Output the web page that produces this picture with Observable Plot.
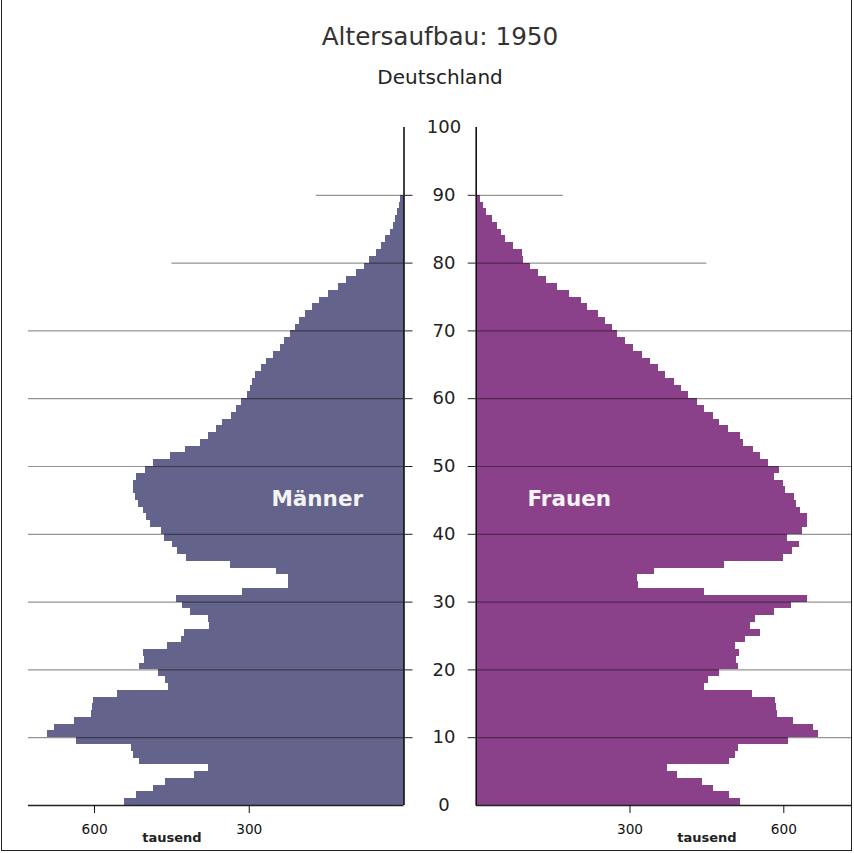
<!DOCTYPE html>
<html>
<head>
<meta charset="utf-8">
<script src="https://cdn.jsdelivr.net/npm/d3@7"></script>
<script src="https://cdn.jsdelivr.net/npm/@observablehq/plot@0.6"></script>
<style>
  html, body { margin: 0; padding: 0; background: #fff; }
  #wrap { position: relative; width: 854px; height: 853px; overflow: hidden; font-family: "DejaVu Sans", sans-serif; }
  #frame { position: absolute; left: 1px; top: -2px; width: 849px; height: 851px; border: 1px solid #222; box-sizing: content-box; pointer-events: none; }
  .ttl { position: absolute; left: 0; width: 880px; text-align: center; line-height: 1; white-space: nowrap; }
  #title { top: 25px; font-size: 24.7px; color: #333; }
  #subtitle { top: 67px; font-size: 20px; color: #222; }
  .panel { position: absolute; top: 0; }
</style>
</head>
<body>
<div id="wrap">
  <div id="title" class="ttl">Altersaufbau: 1950</div>
  <div id="subtitle" class="ttl">Deutschland</div>
  <div id="left" class="panel" style="left:0px"></div>
  <div id="right" class="panel" style="left:460px"></div>
  <div id="frame"></div>
</div>
<script>
// Population by single year of age (index = age 0..89), in thousands
const maleValues = [
  542, 519, 486, 462, 406, 379, 513, 525, 529, 634,
  691, 678, 639, 605, 603, 602, 555, 456, 463, 476,
  512, 503, 505, 458, 432, 426, 377, 379, 413, 429,
  442, 313, 224, 224, 247, 337, 421, 440, 449, 465,
  470, 492, 500, 505, 515, 521, 525, 525, 518, 502,
  486, 452, 424, 395, 379, 363, 351, 335, 324, 316,
  304, 298, 293, 287, 276, 266, 253, 240, 231, 220,
  211, 203, 190, 177, 164, 147, 127, 111, 93, 76,
  67, 54, 43, 35, 27, 21, 16, 12, 8, 6
];
const femaleValues = [
  516, 495, 462, 442, 392, 373, 495, 505, 512, 609,
  668, 657, 618, 587, 586, 584, 538, 446, 454, 475,
  511, 508, 514, 506, 525, 555, 536, 545, 582, 615,
  646, 446, 316, 314, 348, 484, 599, 616, 631, 607,
  636, 646, 646, 633, 625, 620, 603, 600, 581, 592,
  571, 555, 540, 522, 515, 493, 475, 462, 445, 431,
  415, 400, 386, 370, 355, 340, 324, 306, 291, 275,
  265, 252, 239, 218, 205, 182, 159, 138, 122, 105,
  92, 90, 73, 57, 49, 41, 31, 21, 15, 8
];
const ageTicks = [0, 10, 20, 30, 40, 50, 60, 70, 80, 90, 100];
const valueTicks = [300, 600];
const fullGridAges = [10, 20, 30, 40, 50, 60, 70];
const partialGrid = [{age: 80, reach: 450}, {age: 90, reach: 170}];
const panelNames = ["Männer", "Frauen"];
const unitLabel = "tausend";

const maleColor = "#63638b";
const femaleColor = "#8b4189";

const rows = (vals) => vals.map((v, i) => ({age: i, age1: i + 1, value: v}));
const maleRows = rows(maleValues);
const femaleRows = rows(femaleValues);
const ageExtent = d3.extent(ageTicks);
const innerTicks = ageTicks.filter(a => a > ageExtent[0] && a < ageExtent[1]);
const unitX = d3.mean(valueTicks);

const common = {
  height: 853,
  marginTop: 127,
  marginBottom: 48,
  y: {domain: ageExtent, label: null},
  style: {fontFamily: "DejaVu Sans", background: "transparent", overflow: "visible"}
};
const gridStyle = {stroke: "#000", strokeOpacity: 0.42, strokeWidth: 1.2};

const left = Plot.plot({
  ...common,
  width: 470,
  marginLeft: 28,
  marginRight: 66.5,
  x: {domain: [728, 0], label: null},
  marks: [
    Plot.rect(maleRows, {x1: () => 0, x2: "value", y1: "age", y2: "age1", fill: maleColor, shapeRendering: "crispEdges"}),
    Plot.ruleY(fullGridAges, {y: d => d, x1: 728, x2: 0, ...gridStyle}),
    Plot.ruleY(partialGrid, {y: "age", x1: "reach", x2: () => 0, ...gridStyle}),
    Plot.ruleY([0], {x1: 728, x2: 0, stroke: "#222", strokeWidth: 1.5}),
    Plot.ruleX([0], {y1: ageExtent[0], y2: ageExtent[1], stroke: "#111", strokeWidth: 1.6}),
    Plot.axisY(innerTicks, {anchor: "right", tickSize: 8, tickFormat: () => "", color: "#222", label: null}),
    Plot.axisY(ageTicks, {anchor: "right", tickSize: 0, tickPadding: 40, textAnchor: "middle", fontSize: 18, color: "#222", label: null}),
    Plot.axisX(valueTicks, {anchor: "bottom", tickSize: 8, tickPadding: 11, fontSize: 13.7, color: "#111", label: null}),
    Plot.text([unitLabel], {x: () => unitX, frameAnchor: "bottom", dy: 36, fontSize: 13, fontWeight: "bold", fill: "#222"}),
    Plot.text([panelNames[0]], {frameAnchor: "middle", dx: 101, dy: 33, fontSize: 21.5, fontWeight: "bold", fill: "#f4f4f4"})
  ]
});

const right = Plot.plot({
  ...common,
  width: 394,
  marginLeft: 15.7,
  marginRight: 2,
  x: {domain: [0, 734], label: null},
  marks: [
    Plot.rect(femaleRows, {x1: () => 0, x2: "value", y1: "age", y2: "age1", fill: femaleColor, shapeRendering: "crispEdges"}),
    Plot.ruleY(fullGridAges, {y: d => d, x1: 0, x2: 734, ...gridStyle}),
    Plot.ruleY(partialGrid, {y: "age", x1: () => 0, x2: "reach", ...gridStyle}),
    Plot.ruleY([0], {x1: 0, x2: 734, stroke: "#222", strokeWidth: 1.5}),
    Plot.ruleX([0], {y1: ageExtent[0], y2: ageExtent[1], stroke: "#111", strokeWidth: 1.6}),
    Plot.axisY(innerTicks, {anchor: "left", tickSize: 8, tickFormat: () => "", color: "#222", label: null}),
    Plot.axisX(valueTicks, {anchor: "bottom", tickSize: 8, tickPadding: 11, fontSize: 13.7, color: "#111", label: null}),
    Plot.text([unitLabel], {x: () => unitX, frameAnchor: "bottom", dy: 36, fontSize: 13, fontWeight: "bold", fill: "#222"}),
    Plot.text([panelNames[1]], {frameAnchor: "middle", dx: -95, dy: 33, fontSize: 21.5, fontWeight: "bold", fill: "#f4f4f4"})
  ]
});

document.getElementById("left").appendChild(left);
document.getElementById("right").appendChild(right);
</script>
</body>
</html>
